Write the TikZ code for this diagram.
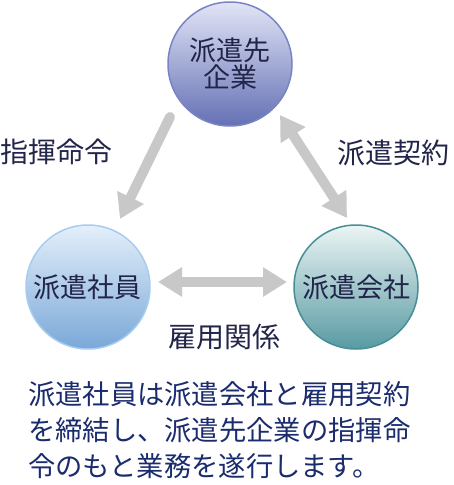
\documentclass[tikz,border=0pt]{standalone}
\usepackage{fontspec}
\setmainfont{Noto Sans CJK JP}
\usetikzlibrary{arrows.meta}
\definecolor{arrowgray}{HTML}{C8C8C8}
\definecolor{labeltext}{HTML}{22254A}
\definecolor{bodytext}{HTML}{1B2C6E}
\tikzset{
  ball/.style={circle, minimum size=124pt, inner sep=0pt, line width=1.5pt,
    text=labeltext, align=center, font=\fontsize{27}{30}\selectfont},
  rel/.style={text=labeltext, font=\fontsize{28}{30}\selectfont, inner sep=0pt},
  conn/.style={draw=arrowgray, line width=10pt},
  tipx/.style={-{Triangle[width=28pt,length=24pt]}},
  tipxx/.style={{Triangle[width=28pt,length=24pt]}-{Triangle[width=28pt,length=24pt]}}
}
\begin{document}
\begin{tikzpicture}[x=1pt,y=-1pt]
\useasboundingbox (0,0) rectangle (453,485);
\fill[white] (0,0) rectangle (453,485);

% circles
\node[ball, top color={rgb,255:red,226;green,229;blue,246}, bottom color={rgb,255:red,100;green,112;blue,180},
      draw={rgb,255:red,120;green,132;blue,196}] (client) at (230,64) {派遣先\\[-3pt]企業};
\node[ball, top color={rgb,255:red,228;green,239;blue,250}, bottom color={rgb,255:red,122;green,168;blue,216},
      draw={rgb,255:red,168;green,204;blue,240}] (staff) at (88,287) {派遣社員};
\node[ball, top color={rgb,255:red,236;green,245;blue,245}, bottom color={rgb,255:red,88;green,154;blue,162},
      draw={rgb,255:red,72;green,142;blue,150}] (agency) at (356,287) {派遣会社};

% connector end points
\coordinate (cmdS) at (170,117);
\coordinate (cmdE) at (120,219);
\coordinate (conS) at (280,115);
\coordinate (conE) at (347,218);
\coordinate (empS) at (158,282);
\coordinate (empE) at (287,282);

\draw[conn, tipx, line cap=round] (cmdS) -- (cmdE);
\draw[conn, tipxx] (conS) -- (conE);
\draw[conn, tipxx] (empS) -- (empE);

% relation labels
\node[rel] (lcmd) at (57,152) {指揮命令};
\node[rel] (lcon) at (393,153) {派遣契約};
\node[rel] (lemp) at (224,337) {雇用関係};

% description
\node[anchor=north west, inner sep=0pt, align=left, text=bodytext,
      font=\fontsize{27.3}{36}\selectfont] (desc) at (28,381)
  {派遣社員は派遣会社と雇用契約\\を締結し、派遣先企業の指揮命\\令のもと業務を遂行します。};
\end{tikzpicture}
\end{document}
